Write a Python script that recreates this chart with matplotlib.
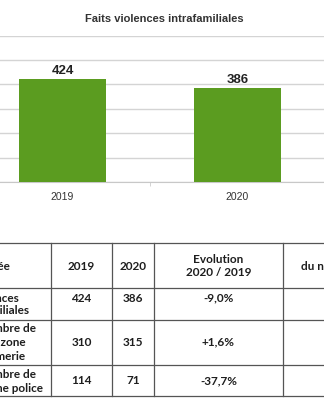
import matplotlib.pyplot as plt

plt.rcParams['font.family'] = ['Liberation Sans', 'DejaVu Sans']

# donnees du graphique
annees = ['2019', '2020']
faits = [424, 386]
titre = 'Faits violences intrafamiliales'

# donnees du tableau
entetes = ['Année', '2019', '2020', 'Evolution\n2020 / 2019', 'du nombre total']
lignes = ['Violences\nintrafamiliales',
          'Nombre de\nfaits en zone\ngendarmerie',
          'Nombre de\nen zone police']
val_2019 = [424, 310, 114]
val_2020 = [386, 315, 71]
evolution = ['-9,0%', '+1,6%', '-37,7%']

W, H = 324, 400
fig = plt.figure(figsize=(W / 100, H / 100), dpi=100)

# --- graphique en barres ---
ax = fig.add_axes([-25 / W, (H - 182) / H, 350 / W, 146.4 / H])
x = range(len(annees))
ax.bar(x, faits, width=0.5, color='#5b9c20', zorder=3)
for i, v in zip(x, faits):
    ax.text(i, v + 8, str(v), ha='center', va='bottom', fontsize=9.5,
            fontweight='bold', color='#222222')
ax.set_xlim(-0.5, 1.5)
ax.set_ylim(0, 600)
ax.set_yticks(range(0, 601, 100))
ax.yaxis.grid(True, color='#d4d4d4', linewidth=1)
ax.tick_params(axis='y', length=0, labelleft=False)
ax.set_xticks(list(x))
ax.set_xticklabels(annees, fontsize=7.5, color='#333333')
ax.tick_params(axis='x', length=0, pad=7)
ax.set_xticks([0.5], minor=True)
ax.tick_params(axis='x', which='minor', length=3, color='#cccccc')
for s in ['top', 'left', 'right']:
    ax.spines[s].set_visible(False)
ax.spines['bottom'].set_color('#c8c8c8')
fig.text(164 / W, 1 - 19 / H, titre, ha='center', va='center', fontsize=8,
         fontweight='bold', color='#333333')

# --- tableau ---
tb = fig.add_axes([0, 0, 1, 1])
tb.set_xlim(0, W)
tb.set_ylim(H, 0)
tb.axis('off')

lc = '#555555'
for yy in [243, 288, 320, 365, 396]:
    tb.plot([-5, W + 5], [yy, yy], color=lc, lw=0.9)
for xx in [51, 112, 154, 283]:
    tb.plot([xx, xx], [243, 396], color=lc, lw=0.9)

tfont = dict(fontfamily=['Lato', 'DejaVu Sans'], fontweight='bold',
             fontsize=8.5, color='#1e1e1e')
row_y = [298, 342, 381]
# entetes
tb.text(10, 266, entetes[0], ha='right', va='center', **tfont)
tb.text(81.5, 266, entetes[1], ha='center', va='center', **tfont)
tb.text(133, 266, entetes[2], ha='center', va='center', **tfont)
tb.text(218.5, 266, entetes[3], ha='center', va='center', linespacing=1.15, **tfont)
tb.text(301, 266, entetes[4], ha='left', va='center', **tfont)

# libelles (coupes par le bord gauche)
fins = [[19, 30], [36, 26, 26], [36, 43]]
ys = [[298, 311], [329, 343, 357], [375, 388]]
for lab, fx, fy in zip(lignes, fins, ys):
    for part, xe, ye in zip(lab.split('\n'), fx, fy):
        tb.text(xe, ye, part, ha='right', va='center', **tfont)

for ry, a, b, e in zip(row_y, val_2019, val_2020, evolution):
    tb.text(81.5, ry, str(a), ha='center', va='center', **tfont)
    tb.text(133, ry, str(b), ha='center', va='center', **tfont)
    tb.text(218.5, ry, e, ha='center', va='center', **tfont)

fig.savefig('out.png', dpi=100)
